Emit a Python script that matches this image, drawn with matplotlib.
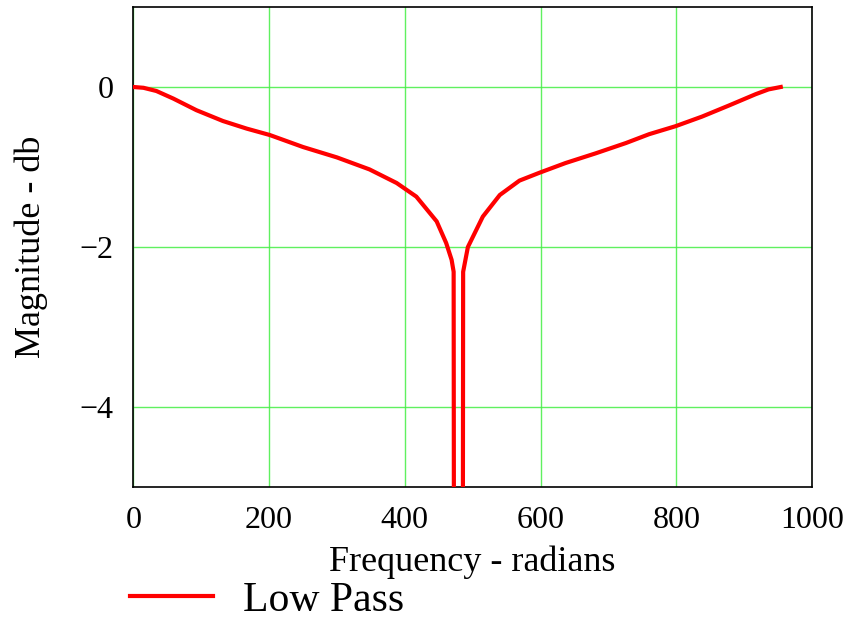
"""Notch filter magnitude response, Mathcad-style plot."""
import matplotlib
matplotlib.use("Agg")
import matplotlib.pyplot as plt

# frequency (rad) and magnitude (dB)
freq = [0, 15, 34, 59, 93, 132, 167, 201, 250, 300, 348, 388, 417, 447,
        461, 469, 472, 479, 486, 493, 515, 540, 569, 599, 637, 681, 726,
        760, 799, 838, 878, 917, 936, 954]
mag_db = [0.0, -0.01, -0.05, -0.145, -0.29, -0.425, -0.52, -0.60, -0.75,
          -0.88, -1.03, -1.20, -1.37, -1.68, -1.95, -2.16, -2.31, -60.0,
          -2.31, -2.0, -1.62, -1.35, -1.17, -1.07, -0.95, -0.83, -0.70,
          -0.59, -0.49, -0.37, -0.23, -0.09, -0.03, 0.0]
series_label = "Low Pass"
xticks = [0, 200, 400, 600, 800, 1000]
yticks = [0, -2, -4]

plt.rcParams["font.family"] = ["Liberation Serif", "DejaVu Serif"]

fig = plt.figure(figsize=(8.55, 6.29), dpi=100)
ax = fig.add_axes([0.1559, 0.2257, 0.7938, 0.7632])

line, = ax.plot(freq, mag_db, color="#ff0000", lw=3.0, label=series_label,
                solid_joinstyle="round", zorder=3)

ax.set_xlim(0, 1000)
ax.set_ylim(-5, 1)
ax.set_xticks(xticks)
ax.set_yticks(yticks)
ax.set_xticklabels([str(t) for t in xticks])
ax.set_yticklabels([("\u2212" + str(-t)) if t < 0 else str(t) for t in yticks])
ax.grid(True, color="#44ee44", lw=1.0, alpha=0.85)
ax.tick_params(length=0, labelsize=23, pad=14)
for s in ax.spines.values():
    s.set_linewidth(1.2)
    s.set_color("black")

ax.set_xlabel("Frequency - radians", fontsize=26, labelpad=7)
ax.set_ylabel("Magnitude - db", fontsize=26, labelpad=23)

fig.legend(handles=[line], loc="center left", bbox_to_anchor=(0.152, 0.045),
           frameon=False, fontsize=30, handlelength=2.0, handletextpad=0.72,
           borderpad=0, borderaxespad=0)

fig.savefig("out.png", dpi=100)
